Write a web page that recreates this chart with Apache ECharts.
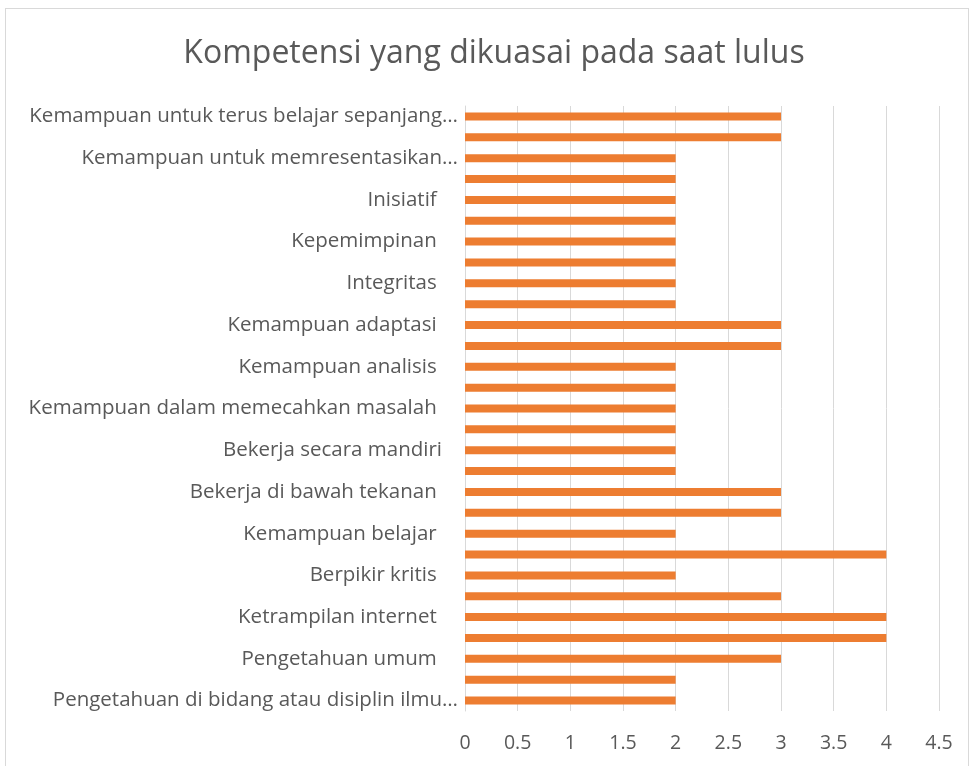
<!DOCTYPE html>
<html>
<head>
<meta charset="utf-8">
<script src="https://cdn.jsdelivr.net/npm/echarts@6/dist/echarts.min.js"></script>
<style>
  html, body { margin: 0; padding: 0; background: #fff; }
  #main { position: absolute; left: 0; top: 0; width: 972px; height: 766px; }
  #frame { position: absolute; left: 5px; top: 8px; width: 964px; height: 770px; border: 1px solid #d9d9d9; box-sizing: border-box; }
</style>
</head>
<body>
<div id="frame"></div>
<div id="main"></div>
<script>
  // categories bottom -> top, only every other one carries a visible label
  var labels = [
    'Pengetahuan di bidang atau disiplin ilmu…', '',
    'Pengetahuan umum    ', '',
    'Ketrampilan internet    ', '',
    'Berpikir kritis    ', '',
    'Kemampuan belajar    ', '',
    'Bekerja di bawah tekanan    ', '',
    'Bekerja secara mandiri   ', '',
    'Kemampuan dalam memecahkan masalah    ', '',
    'Kemampuan analisis    ', '',
    'Kemampuan adaptasi    ', '',
    'Integritas    ', '',
    'Kepemimpinan    ', '',
    'Inisiatif    ', '',
    'Kemampuan untuk memresentasikan…', '',
    'Kemampuan untuk terus belajar sepanjang…'
  ];
  // values bottom -> top
  var values = [2, 2, 3, 4, 4, 3, 2, 4, 2, 3, 3, 2, 2, 2, 2, 2, 2, 3, 3, 2, 2, 2, 2, 2, 2, 2, 2, 3, 3];
  var xTicks = [0, 0.5, 1, 1.5, 2, 2.5, 3, 3.5, 4, 4.5];

  var myChart = echarts.init(document.getElementById('main'));
  var font = '"Open Sans", "Noto Sans", sans-serif';

  var option = {
    animation: false,
    title: {
      text: 'Kompetensi yang dikuasai pada saat lulus',
      left: 489,
      top: 33,
      textAlign: 'center',
      textStyle: { fontFamily: font, fontSize: 32, fontWeight: 'normal', color: '#595959' }
    },
    grid: { left: 465, right: 33, top: 106, bottom: 55 },
    xAxis: {
      type: 'value',
      min: xTicks[0],
      max: xTicks[xTicks.length - 1],
      interval: 0.5,
      axisLine: { show: false },
      axisTick: { show: false },
      splitLine: { lineStyle: { color: '#d9d9d9', width: 1 } },
      axisLabel: { fontFamily: font, fontSize: 19.5, color: '#595959', margin: 22 }
    },
    yAxis: {
      type: 'category',
      data: labels,
      axisLine: { lineStyle: { color: '#d9d9d9' } },
      axisTick: { show: false },
      axisLabel: { interval: 1, fontFamily: font, fontSize: 20.5, color: '#595959', margin: 7 }
    },
    series: [{
      type: 'bar',
      data: values,
      barWidth: 8,
      itemStyle: { color: '#ED7D31' }
    }]
  };

  myChart.setOption(option);
</script>
</body>
</html>
